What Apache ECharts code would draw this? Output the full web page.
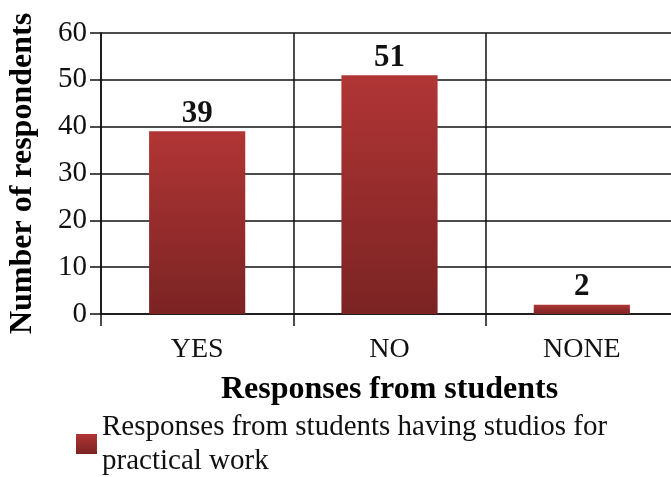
<!DOCTYPE html>
<html>
<head>
<meta charset="utf-8">
<script src="https://cdn.jsdelivr.net/npm/echarts@6/dist/echarts.min.js"></script>
<style>html,body{margin:0;padding:0;background:#fff;}#c{width:671px;height:477px;}</style>
</head>
<body>
<div id="c"></div>
<script>
var categories = ['YES', 'NO', 'NONE'];
var responses = [39, 51, 2];
var seriesName = 'Responses from students having studios for practical work';
var yTicks = [0, 10, 20, 30, 40, 50, 60];

var FONT = '"Liberation Serif", "Times New Roman", serif';
var chart = echarts.init(document.getElementById('c'), null, {renderer: 'canvas'});
var grad = new echarts.graphic.LinearGradient(0, 0, 0, 1, [
  {offset: 0, color: '#b13535'},
  {offset: 1, color: '#7b2323'}
]);
chart.setOption({
  animation: false,
  backgroundColor: '#fff',
  textStyle: {fontFamily: FONT},
  grid: {left: 101, top: 33, width: 577, height: 281, containLabel: false, outerBoundsMode: 'none'},
  legend: {
    show: true,
    left: 76, top: 410, padding: 0,
    itemWidth: 21, itemHeight: 20, itemGap: 6,
    icon: 'rect',
    data: [seriesName],
    textStyle: {fontFamily: FONT, fontSize: 29, color: '#111', width: 530, overflow: 'break', lineHeight: 34}
  },
  xAxis: {
    type: 'category',
    data: categories,
    boundaryGap: true,
    name: 'Responses from students',
    nameLocation: 'middle',
    nameGap: 60,
    nameTextStyle: {fontFamily: FONT, fontSize: 32, fontWeight: 'bold', color: '#000'},
    axisLine: {show: true, lineStyle: {color: '#111', width: 1.5}},
    axisTick: {show: true, length: 12, alignWithLabel: false, lineStyle: {color: '#111', width: 1.5}},
    axisLabel: {fontFamily: FONT, fontSize: 28, color: '#111', margin: 22},
    splitLine: {show: true, lineStyle: {color: '#111', width: 1.5}}
  },
  yAxis: {
    type: 'value',
    min: yTicks[0], max: yTicks[yTicks.length - 1], interval: 10,
    name: 'Number of respondents',
    nameLocation: 'middle',
    nameGap: 62,
    nameTextStyle: {fontFamily: FONT, fontSize: 32, fontWeight: 'bold', color: '#000'},
    axisLine: {show: true, lineStyle: {color: '#111', width: 1.5}},
    axisTick: {show: true, length: 11, inside: false, lineStyle: {color: '#111', width: 1.5}},
    axisLabel: {fontFamily: FONT, fontSize: 29, color: '#111', margin: 14},
    splitLine: {show: true, lineStyle: {color: '#111', width: 1.5}}
  },
  series: [{
    name: seriesName,
    type: 'bar',
    data: responses,
    barWidth: '50%',
    itemStyle: {color: grad},
    label: {show: true, position: 'top', distance: 2, fontFamily: FONT, fontSize: 31, fontWeight: 'bold', color: '#111'}
  }]
});
</script>
</body>
</html>
